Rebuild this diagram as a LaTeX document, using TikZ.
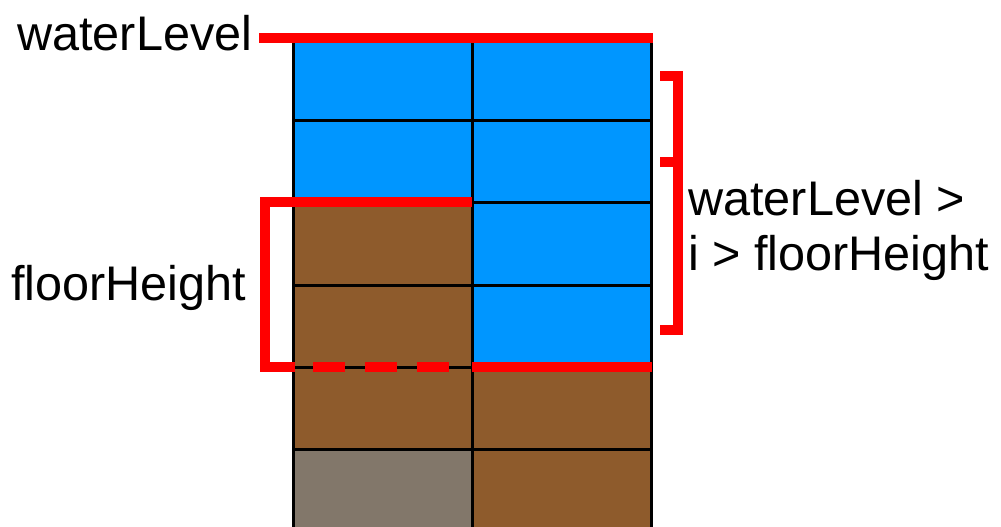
\documentclass[tikz,border=0pt]{standalone}
\usepackage{fontspec}
\setmainfont{Liberation Sans}
\definecolor{water}{RGB}{0,150,255}
\definecolor{soil}{RGB}{142,91,44}
\definecolor{rock}{RGB}{130,119,106}
\definecolor{marker}{RGB}{255,0,0}
\tikzset{
  label/.style={inner sep=0pt, anchor=base west, font=\fontsize{48.6}{55}\selectfont},
  gridline/.style={draw=black, line width=3pt},
  redline/.style={draw=marker, line width=9.5pt, line join=miter},
}
\begin{document}
\begin{tikzpicture}[x=1pt, y=-1pt]
\useasboundingbox (0,0) rectangle (1001,527);

% cell fills: left column
\fill[water] (293,38) rectangle (472,202);
\fill[soil]  (293,202) rectangle (472,449);
\fill[rock]  (293,449) rectangle (472,527);
% cell fills: right column
\fill[water] (472,38) rectangle (651,367);
\fill[soil]  (472,367) rectangle (651,527);

% grid lines
\foreach \gx in {293,472,651} \draw[gridline] (\gx,38) -- (\gx,527);
\foreach \gy in {120,202,285,367,449} \draw[gridline] (293,\gy) -- (651,\gy);

% labels
\node[label] (wl)  at (17,51)  {waterLevel};
\node[label] (fh)  at (11,300) {floorHeight};
\node[label] (rng1) at (688,215) {waterLevel >};
\node[label] (rng2) at (688,270) {i > floorHeight};

% marker anchor points
\coordinate (wlL) at (259,38);
\coordinate (wlR) at (653,38);
\coordinate (fhTR) at (472,202);
\coordinate (fhTL) at (265,202);
\coordinate (fhBL) at (265,367);
\coordinate (fhB1) at (295,367);
\coordinate (fhB2) at (465,367);
\coordinate (flA) at (472,367);
\coordinate (flB) at (652,367);
\coordinate (brT0) at (660,76);
\coordinate (brT1) at (678,76);
\coordinate (brM0) at (660,162);
\coordinate (brM1) at (678,162);
\coordinate (brB0) at (660,330);
\coordinate (brB1) at (678,330);

% water level marker
\draw[redline] (wlL) -- (wlR);
% floor height bracket
\draw[redline] (fhTR) -- (fhTL) -- (fhBL) -- (fhB1);
\draw[redline, dash pattern=on 32pt off 20pt, dash phase=34pt] (fhB1) -- (fhB2);
\draw[redline] (flA) -- (flB);
% range bracket
\draw[redline] (brT0) -- (brT1) -- (brB1) -- (brB0);
\draw[redline] (brM0) -- (brM1);
\end{tikzpicture}
\end{document}
